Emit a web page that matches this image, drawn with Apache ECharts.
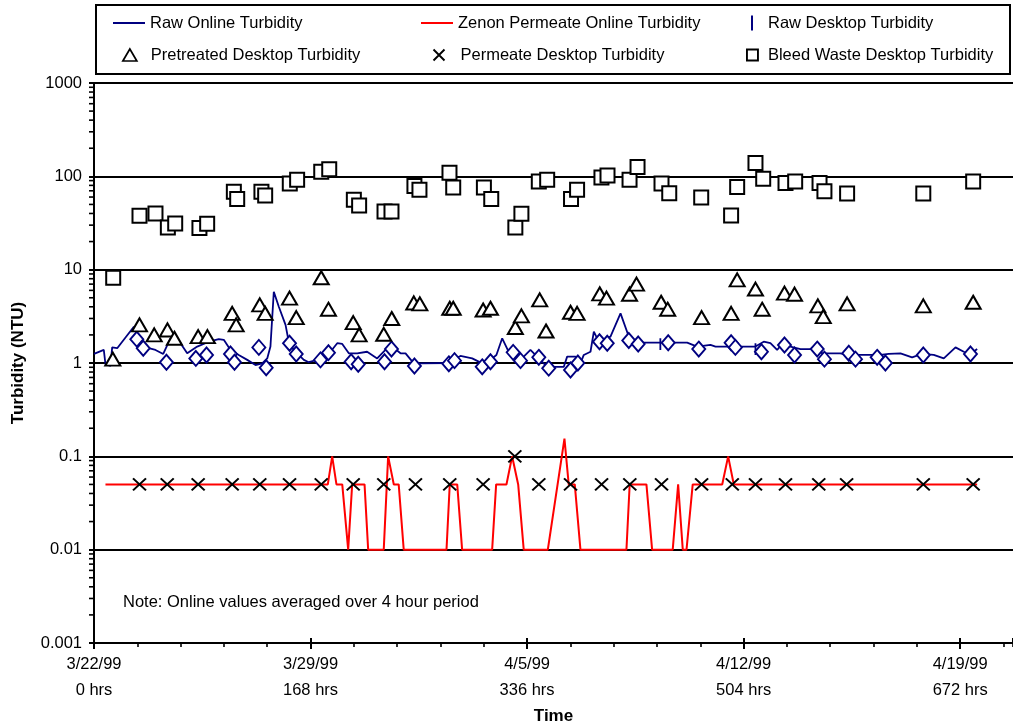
<!DOCTYPE html>
<html>
<head>
<meta charset="utf-8">
<script src="https://cdn.jsdelivr.net/npm/echarts@6/dist/echarts.min.js"></script>
<style>
html,body{margin:0;padding:0;background:#fff;}
#chart{width:1013px;height:723px;}
</style>
</head>
<body>
<div id="chart"></div>
<script>
// ---- axis tick labels ----
const tickHours = [0, 168, 336, 504, 672];
const tickDates = ['3/22/99', '3/29/99', '4/5/99', '4/12/99', '4/19/99'];

// ---- Raw Online Turbidity (line, 4-hour averages) ----
const rawOnlineHrs = [0,7.6,8.9,8.9,12.8,14.1,18.0,30.9,36.1,42.5,47.7,53.7,59.3,67.1,72.3,80.1,89.1,96.8,100.7,105.9,112.3,118.9,125.3,130.5,134.4,136.9,139.5,143.4,148.6,151.1,155.0,162.8,166.6,173.2,178.3,183.5,188.7,192.6,197.7,204.2,211.9,219.7,226.1,231.3,237.8,241.7,248.1,253.3,
  274.0,284.3,293.4,301.2,307.5,312.2,316.7,321.0,330.9,338.6,345.1,351.6,364.5,367.1,373.5,377.4,380.0,385.2,387.8,391.6,400.7,408.5,414.9,421.4,426.5,439.4,439.4,439.4,439.4,445.9,460.2,467.9,478.3,482.2,491.2,
  504.1,513.2,513.2,513.2,513.2,519.6,524.8,530.0,535.1,540.3,548.1,555.8,559.7,564.9,568.8,579.1,584.3,599.8,610.2,616.6,625.7,634.7,642.5,651.5,659.3,668.4,674.8,680.0,685.2];
const rawOnlineVals = [1.25,1.38,1.38,0.97,0.93,1.47,1.44,2.45,1.69,1.44,1.38,1.25,1.84,1.63,1.27,1.5,1.69,1.8,1.77,1.38,1.22,1.08,0.95,0.99,1.12,1.5,5.8,4.0,2.56,1.69,1.38,1.08,1.02,1.08,1.27,1.32,1.63,1.6,1.27,1.27,1.32,1.12,1.38,1.5,1.27,1.27,0.99,0.99,
  1.0,1.19,1.12,0.99,1.08,1.22,1.84,1.38,1.08,1.38,1.12,0.91,0.91,1.17,1.17,0.99,1.22,1.32,2.17,1.69,1.92,3.4,1.92,1.65,1.65,1.65,1.84,1.38,1.65,1.65,1.65,1.5,1.56,1.5,1.5,
  1.5,1.5,1.63,1.22,1.5,1.69,1.63,1.38,1.69,1.5,1.41,1.41,1.56,1.27,1.27,1.27,1.22,1.22,1.22,1.25,1.27,1.15,1.25,1.22,1.12,1.47,1.32,1.25,1.41];

// ---- Zenon Permeate Online Turbidity (line) ----
const zenonHrs = [8.9,181.4,184.8,188.1,192.6,197.2,200.3,209.9,212.7,224.8,228.2,232.6,236.4,240.3,273.5,276.0,281.8,285.6,308.9,312.0,320.0,324.4,329.1,333.4,352.1,365.0,368.3,373.0,377.4,413.1,415.6,428.6,433.0,449.0,453.2,456.8,459.7,464.5,487.4,492.0,496.4,685.2];
const zenonVals = [0.05,0.05,0.1,0.05,0.05,0.01,0.05,0.05,0.01,0.01,0.1,0.05,0.05,0.01,0.01,0.05,0.05,0.01,0.01,0.05,0.05,0.1,0.05,0.01,0.01,0.155,0.05,0.05,0.01,0.01,0.05,0.05,0.01,0.01,0.05,0.01,0.01,0.05,0.05,0.1,0.05,0.05];

// ---- Raw Desktop Turbidity (diamonds) ----
const rawDeskHrs = [33.2,38.2,56.2,79.0,87.3,105.9,109.0,127.9,133.6,151.7,156.9,175.7,181.9,199.5,205.0,225.4,230.8,248.6,275.3,279.7,301.2,307.6,325.2,330.9,345.1,352.8,369.7,375.4,392.2,398.2,414.9,422.2,445.5,469.2,494.3,497.6,517.8,535.7,543.5,561.1,566.7,585.6,590.8,607.6,614.0,643.4,680.0];
const rawDeskVals = [1.8,1.44,1.02,1.12,1.22,1.25,1.02,1.47,0.89,1.63,1.25,1.08,1.29,1.03,0.97,1.03,1.41,0.93,0.98,1.06,0.91,1.03,1.3,1.06,1.15,0.88,0.84,1.0,1.69,1.63,1.74,1.6,1.65,1.41,1.65,1.47,1.32,1.56,1.22,1.41,1.1,1.27,1.1,1.15,1.0,1.22,1.25];

// ---- Pretreated Desktop Turbidity (triangles) ----
const pretreatHrs = [14.6,35.3,46.7,57.0,62.4,80.8,88.0,107.2,110.3,128.6,132.8,151.7,156.9,176.3,181.9,201.1,205.7,224.8,231.0,248.1,252.8,276.0,278.7,301.9,307.6,326.9,331.6,345.8,350.7,369.7,374.8,392.4,397.6,415.5,420.9,440.0,445.1,471.4,494.3,499.0,513.2,518.4,535.7,543.5,561.6,565.8,584.3,643.4,682.1];
const pretreatVals = [1.1,2.56,2.0,2.26,1.84,1.92,1.92,3.4,2.56,4.2,3.4,4.95,3.06,8.2,3.77,2.71,2.0,2.03,3.0,4.4,4.3,3.86,3.86,3.7,3.86,2.4,3.2,4.75,2.2,3.5,3.4,5.5,4.95,5.46,7.0,4.48,3.77,3.06,3.4,7.77,6.2,3.77,5.6,5.46,4.1,3.14,4.3,4.1,4.48];

// ---- Permeate Desktop Turbidity (x marks) ----
const permDeskHrs = [35.3,56.8,80.8,107.2,128.6,151.7,176.3,201.1,224.8,249.4,276.0,301.9,326.5,345.1,369.7,393.8,415.7,440.3,471.4,495.2,513.2,536.5,562.3,583.9,643.4,682.1];
const permDeskVals = [0.05,0.05,0.05,0.05,0.05,0.05,0.05,0.05,0.05,0.05,0.05,0.05,0.1,0.05,0.05,0.05,0.05,0.05,0.05,0.05,0.05,0.05,0.05,0.05,0.05,0.05];

// ---- Bleed Waste Desktop Turbidity (squares) ----
const bleedHrs = [14.9,35.3,47.7,57.3,63.0,81.8,87.8,108.5,111.1,129.9,132.8,151.9,157.6,176.3,182.5,201.6,205.7,225.4,230.8,248.6,252.5,275.8,278.7,302.5,308.2,326.9,331.6,345.1,351.6,370.1,374.8,393.7,398.4,415.5,421.7,440.3,446.3,471.1,494.3,499.0,513.2,519.2,536.5,544.0,562.9,566.7,584.3,643.4,682.1];
const bleedVals = [8.2,37.8,40,28.3,31.3,28,31,68.5,57,68.5,62.5,84,92,112,119,56,48.8,42,42,79,72,109,76,76,57,28.3,39.7,88,92,57,72,97,102,92,126,84,66,59.5,38,77,139,94,85,88,85,69,65.6,65.6,88];

// ---- styling ----
const FONT = '"Liberation Sans", Arial, sans-serif';
const FS = 16.5;
const NAVY = '#000080';
const RED = '#ff0000';
const X_PATH = 'path://M0,0L10,10M10,0L0,10';
const HR_MAX = 713;

function pairs(h, v) { return h.map((x, i) => [x, v[i]]); }

// minor tick positions on the log axis (2..9 in each decade)
const yMinorTicks = [];
for (let e = -3; e < 3; e++) {
  for (let m = 2; m <= 9; m++) yMinorTicks.push([0, +(m * Math.pow(10, e)).toPrecision(3)]);
}

const chart = echarts.init(document.getElementById('chart'), null, { renderer: 'canvas' });

const legendText = { fontSize: FS, color: '#000', fontFamily: FONT, lineHeight: 18 };
function legendBox(name, left, top, w, h, icon, itemStyle, padLeft) {
  return {
    data: [{ name: name, icon: icon, itemStyle: itemStyle }],
    left: left, top: top, itemWidth: w, itemHeight: h, padding: 0,
    selectedMode: false,
    textStyle: Object.assign({}, legendText, { padding: [0, 0, 0, padLeft] })
  };
}

const option = {
  animation: false,
  backgroundColor: '#fff',
  textStyle: { fontFamily: FONT },
  grid: { left: 94, right: 0, top: 83, bottom: 80, containLabel: false, outerBoundsMode: 'none' },
  legend: [
    legendBox('Raw Online Turbidity', 113, 14, 32, 2, 'rect', { color: NAVY, borderWidth: 0 }, 0),
    legendBox('Zenon Permeate Online Turbidity', 421, 14, 32, 2, 'rect', { color: RED, borderWidth: 0 }, 0),
    legendBox('Raw Desktop Turbidity', 751, 14, 2, 15, 'rect', { color: NAVY, borderWidth: 0 }, 10),
    legendBox('Pretreated Desktop Turbidity', 122, 46, 14, 12, 'triangle', { color: '#fff', borderColor: '#000', borderWidth: 1.7 }, 9),
    legendBox('Permeate Desktop Turbidity', 431, 46, 11, 11, X_PATH, { color: 'none', borderColor: '#000', borderWidth: 1.9 }, 11),
    legendBox('Bleed Waste Desktop Turbidity', 746, 46, 11, 11, 'rect', { color: '#fff', borderColor: '#000', borderWidth: 1.9 }, 5)
  ],
  graphic: [
    { type: 'rect', shape: { x: 96, y: 5, width: 914, height: 69 }, style: { fill: 'none', stroke: '#000', lineWidth: 2 }, z: 10 },
    { type: 'text', left: 123, top: 594, style: { text: 'Note: Online values averaged over 4 hour period', font: FS + 'px ' + FONT, fill: '#000' }, z: 10 }
  ],
  xAxis: [
    {
      type: 'value', min: 0, max: HR_MAX, interval: 168, position: 'bottom',
      axisLine: { show: true, onZero: false, lineStyle: { color: '#000', width: 2 } },
      axisTick: { show: true, length: 6, lineStyle: { color: '#000', width: 2 } },
      axisLabel: {
        margin: 8, fontSize: FS, color: '#000', fontFamily: FONT, lineHeight: 26,
        showMaxLabel: false,
        formatter: function (v) {
          const i = tickHours.indexOf(Math.round(v));
          return i < 0 ? '' : tickDates[i] + '\n' + tickHours[i] + ' hrs';
        }
      },
      splitLine: { show: false },
      name: 'Time', nameLocation: 'middle', nameGap: 60,
      nameTextStyle: { fontWeight: 'bold', fontSize: 17, color: '#000', fontFamily: FONT }
    },
    {
      type: 'value', min: 0, max: HR_MAX, interval: 33.6, position: 'bottom',
      axisLine: { show: false, onZero: false },
      axisTick: { show: true, length: 4, lineStyle: { color: '#000', width: 1.6 } },
      axisLabel: { show: false }, splitLine: { show: false }
    },
    {
      type: 'value', min: 0, max: HR_MAX, interval: 168, position: 'bottom',
      axisLine: { show: false, onZero: false },
      axisTick: { show: true, inside: true, length: 5, lineStyle: { color: '#000', width: 2 } },
      axisLabel: { show: false }, splitLine: { show: false }
    }
  ],
  yAxis: {
    type: 'log', logBase: 10, min: 0.001, max: 1000,
    axisLine: { show: true, onZero: false, lineStyle: { color: '#000', width: 2 } },
    axisTick: { show: true, length: 5, lineStyle: { color: '#000', width: 2 } },
    axisLabel: {
      margin: 12, fontSize: FS, color: '#000', fontFamily: FONT,
      formatter: function (v) {
        const p = Math.round(Math.log10(v));
        return p >= 0 ? String(Math.pow(10, p)) : Math.pow(10, p).toFixed(-p);
      }
    },
    splitLine: { show: true, lineStyle: { color: '#000', width: 2 } },
    name: 'Turbidity (NTU)', nameLocation: 'middle', nameGap: 67,
    nameTextStyle: { fontWeight: 'bold', fontSize: 17, color: '#000', fontFamily: FONT }
  },
  series: [
    {
      type: 'custom', name: 'yMinorTicks', silent: true, clip: false,
      data: yMinorTicks,
      renderItem: function (params, api) {
        const p = api.coord([0, api.value(1)]);
        return { type: 'line', shape: { x1: p[0] - 5, y1: p[1], x2: p[0], y2: p[1] }, style: { stroke: '#000', lineWidth: 1.6 } };
      }
    },
    {
      name: 'Raw Online Turbidity', type: 'line', data: pairs(rawOnlineHrs, rawOnlineVals),
      showSymbol: false, symbol: 'none', color: NAVY,
      lineStyle: { color: NAVY, width: 1.8 }, z: 3
    },
    {
      name: 'Zenon Permeate Online Turbidity', type: 'line', data: pairs(zenonHrs, zenonVals),
      showSymbol: false, symbol: 'none', color: RED,
      lineStyle: { color: RED, width: 2 }, z: 3
    },
    {
      name: 'Raw Desktop Turbidity', type: 'scatter', data: pairs(rawDeskHrs, rawDeskVals),
      symbol: 'diamond', symbolSize: [13, 15], color: NAVY,
      itemStyle: { color: '#fff', borderColor: NAVY, borderWidth: 1.9, opacity: 1 }, z: 4
    },
    {
      name: 'Pretreated Desktop Turbidity', type: 'scatter', data: pairs(pretreatHrs, pretreatVals),
      symbol: 'triangle', symbolSize: [15, 13],
      itemStyle: { color: '#fff', borderColor: '#000', borderWidth: 2, opacity: 1 }, z: 4
    },
    {
      name: 'Permeate Desktop Turbidity', type: 'scatter', data: pairs(permDeskHrs, permDeskVals),
      symbol: X_PATH, symbolSize: [13, 12],
      itemStyle: { color: 'none', borderColor: '#000', borderWidth: 2, opacity: 1 }, z: 4
    },
    {
      name: 'Bleed Waste Desktop Turbidity', type: 'scatter', data: pairs(bleedHrs, bleedVals),
      symbol: 'rect', symbolSize: 14,
      itemStyle: { color: '#fff', borderColor: '#000', borderWidth: 2, opacity: 1 }, z: 4
    }
  ]
};

chart.setOption(option);
</script>
</body>
</html>
